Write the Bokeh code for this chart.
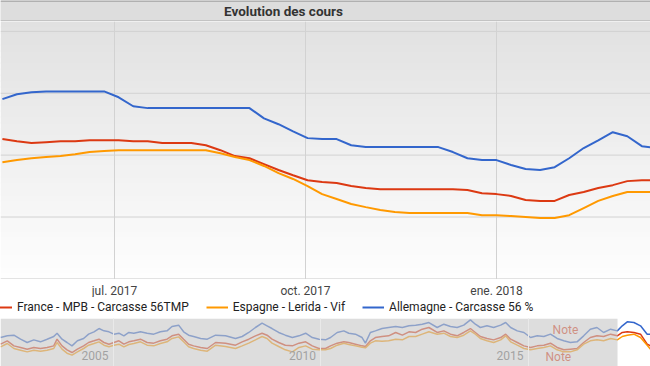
import pandas as pd
from datetime import datetime
from bokeh.plotting import figure
from bokeh.layouts import column
from bokeh.models import (ColumnDataSource, Range1d, FixedTicker, Legend,
                          LegendItem, BoxAnnotation, Span)
from bokeh.embed import file_html
from bokeh.resources import INLINE
from bokeh.core.properties import value

FONT = "Roboto"
W = 650

title_text = "Evolution des cours"
series_names = ["France - MPB - Carcasse 56TMP", "Espagne - Lerida - Vif",
                "Allemagne - Carcasse 56 %"]
series_colors = ["#dc3912", "#ff9900", "#3366cc"]

# ---- main chart (weekly prices, EUR/kg)
dates = ["2017-05-08", "2017-05-15", "2017-05-22", "2017-05-29", "2017-06-05",
         "2017-06-12", "2017-06-19", "2017-06-26", "2017-07-03", "2017-07-10",
         "2017-07-17", "2017-07-24", "2017-07-31", "2017-08-07", "2017-08-14",
         "2017-08-21", "2017-08-28", "2017-09-04", "2017-09-11", "2017-09-18",
         "2017-09-25", "2017-10-02", "2017-10-09", "2017-10-16", "2017-10-23",
         "2017-10-30", "2017-11-06", "2017-11-13", "2017-11-20", "2017-11-27",
         "2017-12-04", "2017-12-11", "2017-12-18", "2017-12-25", "2018-01-01",
         "2018-01-08", "2018-01-15", "2018-01-22", "2018-01-29", "2018-02-05",
         "2018-02-12", "2018-02-19", "2018-02-26", "2018-03-05", "2018-03-12",
         "2018-03-19"]
france = [1.452, 1.445, 1.439, 1.442, 1.445, 1.445, 1.448, 1.448, 1.448, 1.445,
          1.445, 1.439, 1.439, 1.439, 1.432, 1.416, 1.397, 1.390, 1.371, 1.352,
          1.335, 1.319, 1.313, 1.310, 1.300, 1.294, 1.290, 1.290, 1.290, 1.290,
          1.290, 1.290, 1.287, 1.277, 1.274, 1.268, 1.255, 1.252, 1.252, 1.271,
          1.281, 1.294, 1.303, 1.316, 1.319, 1.319]
espagne = [1.377, 1.384, 1.390, 1.394, 1.397, 1.403, 1.410, 1.413, 1.416, 1.416,
           1.416, 1.416, 1.416, 1.416, 1.416, 1.406, 1.394, 1.384, 1.365, 1.342,
           1.323, 1.300, 1.274, 1.258, 1.242, 1.232, 1.223, 1.216, 1.213, 1.213,
           1.213, 1.213, 1.213, 1.206, 1.206, 1.203, 1.200, 1.197, 1.197, 1.206,
           1.229, 1.252, 1.268, 1.281, 1.281, 1.281]
allemagne = [1.581, 1.597, 1.603, 1.606, 1.606, 1.606, 1.606, 1.606, 1.587, 1.558,
             1.552, 1.552, 1.552, 1.552, 1.552, 1.552, 1.552, 1.552, 1.519, 1.500,
             1.477, 1.455, 1.452, 1.452, 1.432, 1.426, 1.426, 1.426, 1.426, 1.426,
             1.426, 1.410, 1.390, 1.384, 1.384, 1.368, 1.355, 1.352, 1.361, 1.390,
             1.423, 1.448, 1.474, 1.461, 1.429, 1.423]

tick_dates = ["2017-07-01", "2017-10-01", "2018-01-01"]
tick_labels = ["jul. 2017", "oct. 2017", "ene. 2018"]
y_grid_values = [1.0, 1.2, 1.4, 1.6, 1.8]

# ---- range selector (overview, decimal years)
ov_years = [2002.28, 2002.44, 2002.60, 2002.76, 2002.92, 2003.08, 2003.24, 2003.40,
            2003.56, 2003.64, 2003.76, 2003.88, 2004.00, 2004.13, 2004.28, 2004.40,
            2004.53, 2004.65, 2004.77, 2004.89, 2005.01, 2005.13, 2005.25, 2005.37,
            2005.49, 2005.65, 2005.81, 2005.97, 2006.13, 2006.29, 2006.41, 2006.57,
            2006.69, 2006.81, 2006.93, 2007.10, 2007.26, 2007.46, 2007.70, 2007.94,
            2008.10, 2008.26, 2008.42, 2008.58, 2008.70, 2008.82, 2008.98, 2009.14,
            2009.31, 2009.47, 2009.63, 2009.79, 2009.95, 2010.11, 2010.23, 2010.39,
            2010.55, 2010.67, 2010.83, 2010.99, 2011.07, 2011.19, 2011.31, 2011.47,
            2011.63, 2011.80, 2011.96, 2012.12, 2012.28, 2012.44, 2012.60, 2012.80,
            2012.96, 2013.12, 2013.28, 2013.44, 2013.60, 2013.72, 2013.84, 2014.00,
            2014.16, 2014.33, 2014.45, 2014.57, 2014.73, 2014.89, 2015.05, 2015.21,
            2015.37, 2015.53, 2015.69, 2015.85, 2016.01, 2016.17, 2016.33, 2016.49,
            2016.65, 2016.81, 2016.98, 2017.14, 2017.26, 2017.38, 2017.54, 2017.70,
            2017.86, 2017.94]
ov_allemagne = [1.350, 1.378, 1.389, 1.322, 1.267, 1.311, 1.278, 1.322,
                1.367, 1.422, 1.322, 1.267, 1.211, 1.295, 1.334, 1.406,
                1.445, 1.500, 1.461, 1.445, 1.406, 1.422, 1.378, 1.434,
                1.422, 1.445, 1.422, 1.406, 1.445, 1.461, 1.534, 1.556,
                1.445, 1.389, 1.367, 1.334, 1.322, 1.389, 1.378, 1.334,
                1.367, 1.434, 1.517, 1.589, 1.545, 1.500, 1.434, 1.389,
                1.350, 1.378, 1.422, 1.350, 1.322, 1.311, 1.350, 1.434,
                1.461, 1.422, 1.406, 1.350, 1.256, 1.434, 1.461, 1.500,
                1.517, 1.534, 1.517, 1.545, 1.556, 1.572, 1.600, 1.517,
                1.572, 1.534, 1.517, 1.556, 1.645, 1.572, 1.517, 1.545,
                1.517, 1.556, 1.600, 1.517, 1.461, 1.434, 1.350, 1.378,
                1.367, 1.406, 1.334, 1.295, 1.267, 1.278, 1.378, 1.489,
                1.517, 1.434, 1.489, 1.461, 1.545, 1.611, 1.600, 1.545,
                1.406, 1.406]
ov_france = [1.239, 1.295, 1.211, 1.184, 1.156, 1.184, 1.167, 1.184,
             1.211, 1.322, 1.211, 1.145, 1.100, 1.156, 1.211, 1.267,
             1.295, 1.322, 1.267, 1.239, 1.267, 1.295, 1.239, 1.278,
             1.295, 1.322, 1.267, 1.256, 1.295, 1.322, 1.378, 1.406,
             1.322, 1.239, 1.211, 1.184, 1.167, 1.267, 1.256, 1.222,
             1.278, 1.322, 1.378, 1.422, 1.389, 1.322, 1.267, 1.222,
             1.211, 1.256, 1.278, 1.211, 1.167, 1.167, 1.211, 1.256,
             1.278, 1.267, 1.239, 1.211, 1.200, 1.295, 1.350, 1.367,
             1.378, 1.434, 1.389, 1.445, 1.434, 1.489, 1.517, 1.434,
             1.461, 1.406, 1.378, 1.434, 1.500, 1.434, 1.367, 1.334,
             1.311, 1.350, 1.406, 1.322, 1.267, 1.211, 1.184, 1.211,
             1.222, 1.256, 1.184, 1.145, 1.156, 1.167, 1.267, 1.350,
             1.378, 1.367, 1.406, 1.378, 1.434, 1.445, 1.434, 1.406,
             1.239, 1.211]
ov_espagne = [1.195, 1.250, 1.167, 1.139, 1.111, 1.139, 1.122, 1.139,
              1.167, 1.267, 1.156, 1.089, 1.056, 1.111, 1.167, 1.222,
              1.250, 1.278, 1.222, 1.195, 1.222, 1.239, 1.195, 1.234,
              1.250, 1.278, 1.222, 1.211, 1.250, 1.278, 1.334, 1.361,
              1.278, 1.195, 1.167, 1.139, 1.122, 1.222, 1.200, 1.167,
              1.211, 1.256, 1.311, 1.367, 1.334, 1.256, 1.200, 1.145,
              1.111, 1.184, 1.211, 1.156, 1.145, 1.145, 1.167, 1.222,
              1.256, 1.234, 1.211, 1.189, 1.178, 1.256, 1.295, 1.289,
              1.295, 1.322, 1.311, 1.367, 1.367, 1.406, 1.445, 1.406,
              1.422, 1.367, 1.350, 1.389, 1.461, 1.406, 1.334, 1.295,
              1.267, 1.311, 1.378, 1.278, 1.222, 1.167, 1.145, 1.167,
              1.184, 1.211, 1.145, 1.111, 1.111, 1.145, 1.239, 1.295,
              1.311, 1.295, 1.334, 1.311, 1.367, 1.389, 1.406, 1.350,
              1.222, 1.156]
ov_tick_years = [2005, 2010, 2015]
selection_start = 2017.145
note_years = [2015.89, 2015.72]
note_values = [1.483, 1.033]
note_text = ["Note", "Note"]

x_start = datetime(2017, 5, 7, 2)
x_end = datetime(2018, 3, 16, 4)

# ================= title bar
t = figure(width=W, height=21, x_range=Range1d(0, W), y_range=Range1d(0, 21),
           output_backend="svg", toolbar_location=None, min_border=0,
           background_fill_color="#dddddd", border_fill_color="#dddddd",
           outline_line_color=None)
t.axis.visible = False
t.grid.visible = False
t.text(x=[283], y=[10.5], text=[title_text], text_align="center",
       text_baseline="middle", text_font=value(FONT), text_font_style="bold",
       text_font_size="13.5px", text_color="#333333")
t.add_layout(Span(location=20.5, dimension="width", line_color="#a0a0a0", line_width=1.5))
t.add_layout(Span(location=0.5, dimension="width", line_color="#a8a8a8", line_width=1))

# ================= main chart (frame = whole canvas)
src = ColumnDataSource(dict(date=pd.to_datetime(dates), france=france,
                            espagne=espagne, allemagne=allemagne))
y0, y1 = 0.998, 1.832
p = figure(width=W, height=258, x_axis_type="datetime",
           x_range=Range1d(x_start, x_end), y_range=Range1d(y0, y1),
           output_backend="svg", toolbar_location=None, min_border=0,
           outline_line_color=None, background_fill_color="#ffffff",
           border_fill_color="#ffffff")
p.axis.visible = False
p.grid.visible = False

nb = 43
for i in range(nb):
    b = y0 + (y1 - y0) * i / nb
    tp = y0 + (y1 - y0) * (i + 1) / nb + 0.003
    frac = (i + 0.5) / nb
    g = int(round(254 - 29 * frac))
    p.add_layout(BoxAnnotation(bottom=b, top=tp, fill_color="#%02x%02x%02x" % (g, g, g),
                               fill_alpha=1, line_color=None, level="underlay"))

tick_ms = [int(pd.Timestamp(d).value // 10**6) for d in tick_dates]
for yv in y_grid_values:
    p.add_layout(Span(location=yv, dimension="width", line_color="#d2d2d2",
                      line_width=1, level="underlay"))
for ms in tick_ms:
    p.add_layout(Span(location=ms, dimension="height", line_color="#d2d2d2",
                      line_width=1, level="underlay"))

for col, color in zip(["france", "espagne", "allemagne"], series_colors):
    p.line("date", col, source=src, line_color=color, line_width=2)

# ================= x tick labels strip
ax = figure(width=W, height=18, x_range=Range1d(x_start, x_end), y_range=Range1d(0, 18),
            x_axis_type="datetime", output_backend="svg", toolbar_location=None,
            min_border=0, outline_line_color=None, background_fill_color="#ffffff",
            border_fill_color="#ffffff")
ax.axis.visible = False
ax.grid.visible = False
ax.text(x=pd.to_datetime(tick_dates), y=[7] * len(tick_dates), text=tick_labels,
        text_align="center", text_baseline="middle", text_font=value(FONT),
        text_font_size="12px", text_color="#444444")

# ================= legend strip
lg = figure(width=W, height=21, x_range=Range1d(0, 1), y_range=Range1d(0, 1),
            output_backend="svg", toolbar_location=None, min_border=0,
            outline_line_color=None, background_fill_color="#ffffff",
            border_fill_color="#ffffff")
lg.axis.visible = False
lg.grid.visible = False
leg_rends = [lg.line(x=[5, 6], y=[5, 5], line_color=c, line_width=2) for c in series_colors]
legend = Legend(items=[LegendItem(label=n, renderers=[r]) for n, r in zip(series_names, leg_rends)],
                orientation="horizontal", location=(-10, 1), glyph_width=22,
                glyph_height=20, label_standoff=5, spacing=17, padding=0, margin=0,
                border_line_color=None, background_fill_alpha=0,
                label_text_font=FONT, label_text_font_size="12px",
                label_text_color="#222222")
lg.add_layout(legend, "center")

# ================= range selector
o = figure(width=W, height=48, x_range=Range1d(2002.277, 2017.94),
           y_range=Range1d(0.867, 1.667), output_backend="svg",
           toolbar_location=None, min_border=0, outline_line_color=None,
           background_fill_color="#ffffff", border_fill_color="#ffffff")
o.axis.visible = False
o.ygrid.visible = False
o.xgrid.ticker = FixedTicker(ticks=ov_tick_years)
o.xgrid.grid_line_color = "#e9e9e9"
o.xgrid.level = "overlay"
osrc = ColumnDataSource(dict(year=ov_years, france=ov_france, espagne=ov_espagne,
                             allemagne=ov_allemagne))
for col, color in zip(["france", "espagne", "allemagne"], series_colors):
    o.line("year", col, source=osrc, line_color=color, line_width=1.5)
o.text(x=ov_tick_years, y=[1.05] * len(ov_tick_years), text=[str(v) for v in ov_tick_years],
       x_offset=-5, text_align="right", text_baseline="middle", text_font=value(FONT),
       text_font_size="12px", text_color="#666666")
o.text(x=note_years, y=note_values, text=note_text, text_align="center",
       text_baseline="middle", text_font=value(FONT), text_font_size="12px",
       text_color="#dc3912")
o.add_layout(BoxAnnotation(right=selection_start, fill_color="#c8c8c8", fill_alpha=0.61,
                           line_color=None))

layout = column(t, p, ax, lg, o, spacing=0)
open("out.html", "w").write(file_html(layout, INLINE))
